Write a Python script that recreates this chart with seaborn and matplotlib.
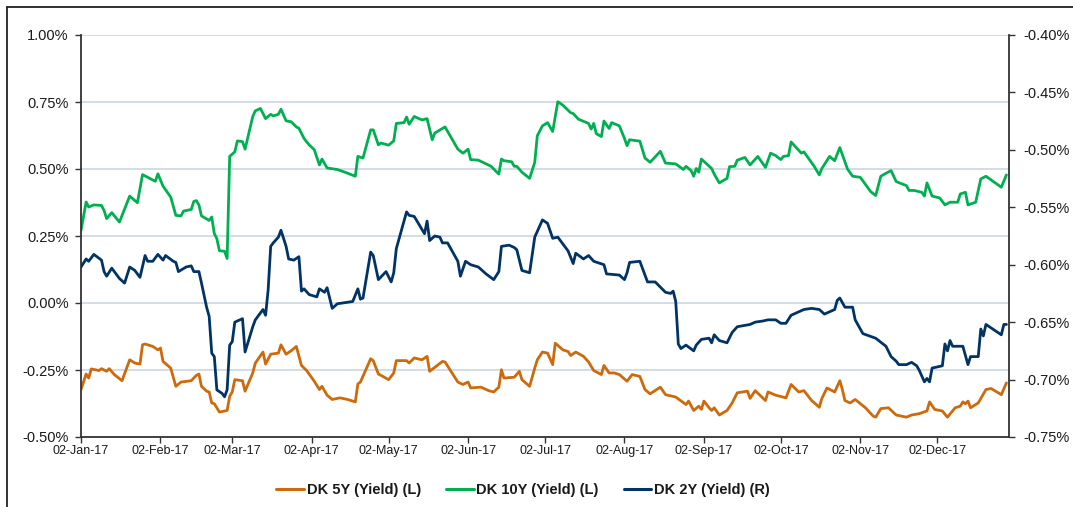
import numpy as np
import pandas as pd
import matplotlib
matplotlib.use("Agg")
import matplotlib.pyplot as plt
import matplotlib.dates as mdates
from matplotlib.ticker import FuncFormatter
from matplotlib.lines import Line2D
import seaborn as sns

# ---------------- data ----------------
START = "2017-01-02"
labels = ["DK 5Y (Yield) (L)", "DK 10Y (Yield) (L)", "DK 2Y (Yield) (R)"]

# days after 02-Jan-17 and yield in %
days_5y = [0, 2, 3, 4, 7, 8, 10, 11, 13, 16, 19, 21, 23, 24, 25, 28, 30, 31, 32, 35,
           37, 39, 43, 45, 46, 47, 49, 50, 51, 52, 54, 57, 58, 59, 60, 63, 64, 67, 68, 71,
           72, 74, 77, 78, 80, 82, 84, 86, 88, 91, 93, 94, 96, 98, 101, 104, 107, 108, 109, 113,
           114, 116, 117, 120, 122, 123, 127, 128, 130, 133, 135, 136, 138, 141, 142, 147, 149, 151, 152, 156,
           159, 161, 163, 164, 165, 169, 171, 172, 175, 177, 178, 180, 182, 184, 185, 188, 190, 191, 193, 196,
           198, 200, 203, 204, 206, 208, 210, 213, 215, 218, 220, 222, 226, 228, 232, 236, 237, 239, 241, 242,
           243, 245, 246, 247, 249, 252, 254, 256, 260, 261, 263, 267, 268, 271, 275, 277, 280, 282, 285, 288,
           289, 291, 294, 296, 297, 298, 300, 302, 306, 309, 310, 312, 315, 318, 322, 324, 327, 329, 330, 331,
           333, 336, 338, 340, 341, 343, 344, 345, 346, 347, 350, 353, 355, 359, 361]
yield_5y = [-0.323, -0.265, -0.280, -0.246, -0.252, -0.245, -0.255, -0.245, -0.267, -0.290,
            -0.212, -0.224, -0.228, -0.156, -0.153, -0.162, -0.175, -0.168, -0.218, -0.243,
            -0.311, -0.295, -0.290, -0.270, -0.265, -0.311, -0.329, -0.332, -0.373, -0.376,
            -0.407, -0.401, -0.348, -0.332, -0.286, -0.290, -0.329, -0.261, -0.224, -0.183,
            -0.228, -0.191, -0.187, -0.156, -0.191, -0.178, -0.162, -0.233, -0.252, -0.292,
            -0.323, -0.311, -0.344, -0.360, -0.354, -0.360, -0.369, -0.302, -0.295, -0.208,
            -0.215, -0.265, -0.270, -0.286, -0.261, -0.215, -0.215, -0.224, -0.205, -0.212,
            -0.199, -0.255, -0.240, -0.218, -0.220, -0.295, -0.304, -0.295, -0.317, -0.314,
            -0.327, -0.332, -0.314, -0.249, -0.280, -0.277, -0.255, -0.286, -0.311, -0.243,
            -0.212, -0.183, -0.187, -0.230, -0.150, -0.175, -0.181, -0.196, -0.183, -0.199,
            -0.220, -0.252, -0.267, -0.233, -0.261, -0.261, -0.267, -0.292, -0.267, -0.274,
            -0.323, -0.339, -0.314, -0.342, -0.351, -0.379, -0.366, -0.401, -0.385, -0.397,
            -0.366, -0.391, -0.401, -0.391, -0.418, -0.401, -0.373, -0.335, -0.329, -0.356,
            -0.327, -0.364, -0.332, -0.344, -0.354, -0.304, -0.332, -0.327, -0.364, -0.389,
            -0.356, -0.317, -0.332, -0.290, -0.323, -0.364, -0.373, -0.360, -0.391, -0.422,
            -0.426, -0.394, -0.391, -0.418, -0.426, -0.418, -0.413, -0.406, -0.403, -0.369,
            -0.397, -0.403, -0.426, -0.403, -0.391, -0.385, -0.369, -0.376, -0.366, -0.391,
            -0.373, -0.323, -0.319, -0.342, -0.298]

days_10y = [0, 2, 3, 5, 8, 9, 10, 12, 15, 19, 22, 24, 26, 29, 30, 32, 35, 37, 39, 40,
            43, 44, 45, 46, 47, 50, 51, 52, 53, 54, 56, 57, 58, 60, 61, 63, 64, 67, 68, 70,
            72, 74, 75, 77, 78, 80, 82, 84, 85, 87, 89, 91, 93, 94, 96, 100, 103, 107, 108, 110,
            113, 114, 116, 117, 120, 122, 123, 126, 127, 128, 130, 133, 135, 137, 138, 142, 147, 149, 151, 152,
            155, 158, 160, 162, 163, 164, 165, 168, 169, 170, 172, 175, 177, 178, 180, 182, 184, 186, 188, 191,
            192, 194, 198, 199, 200, 201, 203, 204, 206, 207, 210, 212, 213, 214, 218, 220, 222, 226, 228, 232,
            235, 236, 238, 239, 240, 241, 242, 246, 247, 249, 250, 252, 253, 255, 256, 259, 261, 264, 267, 269,
            271, 273, 274, 276, 277, 281, 282, 284, 286, 288, 289, 292, 294, 296, 299, 301, 304, 308, 310, 312,
            314, 316, 318, 322, 323, 325, 328, 329, 330, 332, 335, 337, 339, 342, 343, 345, 346, 349, 351, 353,
            359, 361]
yield_10y = [0.270, 0.377, 0.358, 0.366, 0.364, 0.345, 0.315, 0.337, 0.302, 0.399,
             0.374, 0.479, 0.469, 0.454, 0.482, 0.436, 0.395, 0.327, 0.325, 0.343,
             0.349, 0.379, 0.382, 0.366, 0.325, 0.308, 0.321, 0.259, 0.240, 0.195,
             0.193, 0.166, 0.547, 0.564, 0.605, 0.602, 0.574, 0.696, 0.717, 0.726,
             0.688, 0.704, 0.698, 0.704, 0.723, 0.680, 0.676, 0.657, 0.652, 0.614,
             0.590, 0.572, 0.515, 0.537, 0.504, 0.498, 0.488, 0.473, 0.547, 0.541,
             0.646, 0.646, 0.590, 0.597, 0.589, 0.605, 0.670, 0.673, 0.694, 0.667,
             0.696, 0.683, 0.688, 0.609, 0.634, 0.657, 0.574, 0.559, 0.574, 0.535,
             0.533, 0.519, 0.510, 0.490, 0.481, 0.537, 0.531, 0.527, 0.510, 0.510,
             0.488, 0.465, 0.525, 0.624, 0.661, 0.673, 0.640, 0.751, 0.738, 0.710,
             0.707, 0.686, 0.670, 0.649, 0.670, 0.632, 0.621, 0.679, 0.651, 0.673,
             0.661, 0.614, 0.587, 0.609, 0.604, 0.541, 0.525, 0.566, 0.522, 0.519,
             0.498, 0.510, 0.494, 0.473, 0.502, 0.488, 0.537, 0.502, 0.481, 0.448,
             0.454, 0.465, 0.509, 0.510, 0.533, 0.543, 0.515, 0.547, 0.506, 0.559,
             0.550, 0.535, 0.547, 0.550, 0.601, 0.559, 0.564, 0.537, 0.510, 0.478,
             0.502, 0.547, 0.531, 0.580, 0.500, 0.473, 0.469, 0.416, 0.401, 0.473,
             0.484, 0.494, 0.453, 0.438, 0.420, 0.420, 0.413, 0.399, 0.448, 0.399,
             0.392, 0.366, 0.376, 0.376, 0.407, 0.413, 0.366, 0.376, 0.463, 0.473,
             0.432, 0.478]

days_2y = [0, 2, 3, 5, 8, 9, 10, 12, 15, 17, 19, 21, 23, 25, 26, 28, 30, 32, 33, 36,
           37, 38, 41, 43, 44, 46, 47, 49, 50, 51, 52, 53, 55, 56, 57, 58, 59, 60, 63, 64,
           67, 68, 71, 72, 73, 74, 75, 77, 78, 80, 81, 83, 85, 86, 87, 89, 92, 93, 95, 96,
           98, 100, 106, 108, 109, 110, 113, 114, 116, 119, 121, 122, 123, 127, 128, 130, 134, 135, 136, 138,
           140, 141, 143, 147, 148, 150, 152, 155, 158, 161, 163, 164, 167, 169, 170, 172, 175, 177, 178, 180,
           182, 184, 186, 190, 192, 193, 196, 198, 200, 204, 205, 210, 212, 213, 214, 218, 221, 224, 228, 230,
           231, 232, 233, 234, 236, 239, 240, 242, 245, 246, 247, 249, 252, 254, 256, 261, 263, 266, 268, 271,
           273, 275, 277, 280, 282, 285, 288, 290, 294, 295, 296, 298, 301, 302, 305, 310, 314, 316, 318, 319,
           322, 324, 326, 327, 329, 330, 331, 332, 336, 337, 338, 339, 340, 344, 346, 347, 350, 351, 352, 353,
           359, 360, 361]
yield_2y = [-0.602, -0.595, -0.597, -0.591, -0.596, -0.606, -0.610, -0.603, -0.612, -0.616,
            -0.602, -0.605, -0.611, -0.592, -0.597, -0.597, -0.591, -0.596, -0.592, -0.597,
            -0.598, -0.606, -0.602, -0.601, -0.606, -0.606, -0.616, -0.637, -0.645, -0.677,
            -0.680, -0.709, -0.712, -0.715, -0.709, -0.670, -0.667, -0.650, -0.647, -0.676,
            -0.654, -0.648, -0.639, -0.644, -0.622, -0.584, -0.581, -0.576, -0.570, -0.584,
            -0.595, -0.596, -0.593, -0.623, -0.621, -0.626, -0.628, -0.621, -0.624, -0.620,
            -0.638, -0.634, -0.632, -0.621, -0.630, -0.629, -0.589, -0.592, -0.613, -0.606,
            -0.615, -0.607, -0.586, -0.554, -0.557, -0.558, -0.573, -0.562, -0.579, -0.575,
            -0.576, -0.581, -0.581, -0.597, -0.610, -0.597, -0.600, -0.602, -0.608, -0.613,
            -0.606, -0.584, -0.583, -0.585, -0.587, -0.605, -0.607, -0.576, -0.571, -0.561,
            -0.564, -0.577, -0.576, -0.588, -0.599, -0.590, -0.595, -0.592, -0.597, -0.600,
            -0.608, -0.609, -0.613, -0.607, -0.598, -0.597, -0.615, -0.615, -0.624, -0.625,
            -0.623, -0.632, -0.669, -0.673, -0.670, -0.675, -0.670, -0.665, -0.664, -0.668,
            -0.661, -0.666, -0.668, -0.659, -0.654, -0.652, -0.650, -0.649, -0.648, -0.648,
            -0.651, -0.651, -0.644, -0.641, -0.639, -0.638, -0.639, -0.643, -0.639, -0.631,
            -0.629, -0.637, -0.637, -0.648, -0.660, -0.664, -0.671, -0.680, -0.684, -0.687,
            -0.687, -0.685, -0.688, -0.692, -0.702, -0.699, -0.702, -0.690, -0.688, -0.669,
            -0.675, -0.666, -0.671, -0.671, -0.687, -0.680, -0.680, -0.656, -0.662, -0.652,
            -0.661, -0.652, -0.652]

left_ticks = [-0.50, -0.25, 0.00, 0.25, 0.50, 0.75, 1.00]
right_ticks = [-0.75, -0.70, -0.65, -0.60, -0.55, -0.50, -0.45, -0.40]
colors = ["#CC6A0C", "#00B050", "#003366"]

assert len(days_5y) == len(yield_5y)
assert len(days_10y) == len(yield_10y)
assert len(days_2y) == len(yield_2y)


def to_frame(days, vals):
    return pd.DataFrame({
        "date": pd.Timestamp(START) + pd.to_timedelta(days, unit="D"),
        "yield": vals,
    })


df5, df10, df2 = to_frame(days_5y, yield_5y), to_frame(days_10y, yield_10y), to_frame(days_2y, yield_2y)

# ---------------- styling ----------------
sns.set_theme(style="white")
plt.rcParams["font.family"] = ["Liberation Sans", "DejaVu Sans"]
plt.rcParams["text.color"] = "#1a1a1a"

fig = plt.figure(figsize=(10.73, 5.07), dpi=100)
ax = fig.add_axes([81 / 1073, 1 - 437 / 507, (1009 - 81) / 1073, (437 - 35) / 507])
ax2 = ax.twinx()

lw = 2.0
sns.lineplot(data=df5, x="date", y="yield", ax=ax, color=colors[0], linewidth=lw,
             estimator=None, sort=False, legend=False)
sns.lineplot(data=df10, x="date", y="yield", ax=ax, color=colors[1], linewidth=lw,
             estimator=None, sort=False, legend=False)
sns.lineplot(data=df2, x="date", y="yield", ax=ax2, color=colors[2], linewidth=lw,
             estimator=None, sort=False, legend=False)

ax.set_xlim(pd.Timestamp(START), pd.Timestamp(START) + pd.Timedelta(days=362))
ax.set_ylim(-0.5, 1.0)
ax2.set_ylim(-0.75, -0.40)
ax.set_yticks(left_ticks)
ax2.set_yticks(right_ticks)
ax.yaxis.set_major_formatter(FuncFormatter(lambda v, _: f"{v:.2f}%"))
ax2.yaxis.set_major_formatter(FuncFormatter(lambda v, _: f"{v:.2f}%"))
ax.xaxis.set_major_locator(mdates.MonthLocator(bymonthday=2))
ax.xaxis.set_major_formatter(mdates.DateFormatter("%d-%b-%y"))

ax.set_xlabel("")
ax.set_ylabel("")
ax2.set_ylabel("")

ax.yaxis.grid(True, color="#D3DDE5", linewidth=1.4)
ax.xaxis.grid(False)
ax2.grid(False)
ax.set_axisbelow(True)

spine_col = "#333333"
for a in (ax, ax2):
    a.spines["top"].set_visible(False)
    for s in ("left", "right", "bottom"):
        a.spines[s].set_color(spine_col)
        a.spines[s].set_linewidth(1.3)
ax.spines["right"].set_visible(False)
ax2.spines["left"].set_visible(False)
ax2.spines["bottom"].set_visible(False)

ax.tick_params(axis="y", which="major", direction="out", length=4, width=1, color=spine_col,
               labelsize=10.5, pad=5, left=True, labelcolor="#1a1a1a")
ax.tick_params(axis="x", which="major", direction="out", length=4, width=1, color=spine_col,
               labelsize=9, pad=2, bottom=True, labelcolor="#1a1a1a")
ax2.tick_params(axis="y", which="major", direction="out", length=4, width=1, color=spine_col,
                labelsize=10.5, pad=6, right=True, labelcolor="#1a1a1a")

# legend
handles = [Line2D([0], [0], color=c, linewidth=2.2) for c in colors]
fig.legend(handles, labels, loc="center", bbox_to_anchor=(0.4875, 0.034), ncol=3,
           frameon=False, handlelength=1.9, handletextpad=0.2, columnspacing=1.7,
           prop={"weight": "bold", "size": 10.5})

# partial frame (top and left border lines)
fig.add_artist(Line2D([7 / 1073, 7 / 1073], [0, 1 - 7 / 507], transform=fig.transFigure,
                      color="#222222", linewidth=1.3))
fig.add_artist(Line2D([7 / 1073, 1], [1 - 7 / 507, 1 - 7 / 507], transform=fig.transFigure,
                      color="#222222", linewidth=1.3))

fig.savefig("out.png", dpi=100)
